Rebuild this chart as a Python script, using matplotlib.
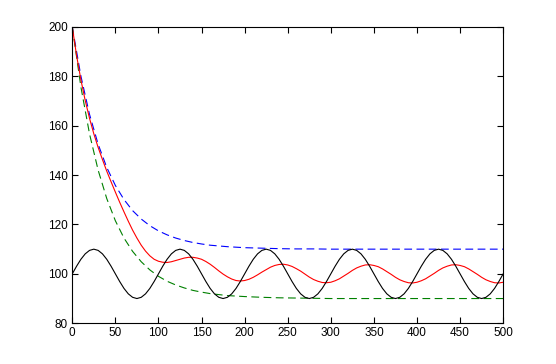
import matplotlib
matplotlib.use("Agg")
import matplotlib.pyplot as plt

# x positions (every 5 units)
x = list(range(0, 501, 5))

# black: oscillating input (one period = 20 samples, repeated)
black_period = [100.0, 103.1, 105.9, 108.1, 109.5, 110.0, 109.5, 108.1, 105.9, 103.1,
                100.0, 96.9, 94.1, 91.9, 90.5, 90.0, 90.5, 91.9, 94.1, 96.9]
black = (black_period * 6)[:100] + [100.0]

# blue dashed: upper envelope
x_env = [0, 10, 20, 30, 40, 50, 60, 70, 80, 90, 100, 110, 120, 130, 140, 150, 160,
         170, 180, 190, 200, 220, 240, 260, 280, 300, 350, 400, 450, 500]
blue = [200.0, 180.1, 164.6, 152.5, 143.1, 135.8, 130.1, 125.6, 122.2, 119.5, 117.4,
        115.8, 114.5, 113.5, 112.7, 112.1, 111.6, 111.3, 111.0, 110.8, 110.6, 110.4,
        110.2, 110.1, 110.1, 110.0, 110.0, 110.0, 110.0, 110.0]
# green dashed: lower envelope
green = [200.0, 175.7, 156.7, 142.0, 130.5, 121.5, 114.5, 109.1, 104.9, 101.6, 99.0,
         97.0, 95.5, 94.3, 93.3, 92.6, 92.0, 91.6, 91.2, 91.0, 90.8, 90.5, 90.3, 90.2,
         90.1, 90.0, 90.0, 90.0, 90.0, 90.0]

# red: filtered response
red_start = [200.0, 188.4, 178.6, 170.2, 163.0, 156.7, 151.2, 146.3, 141.6, 137.3,
             133.1, 129.0, 125.1, 121.3, 117.7, 114.5, 111.6, 109.2, 107.3, 105.9,
             105.1, 104.7, 104.6, 104.9, 105.4, 105.9, 106.4, 106.7, 106.7, 106.4,
             105.9, 105.0, 103.9, 102.6, 101.2, 99.9, 98.8, 97.9, 97.3, 97.1,
             97.3, 97.8, 98.6, 99.6, 100.7, 101.7, 102.7, 103.4, 103.8, 103.9,
             103.6, 103.0, 102.1, 101.1, 99.9, 98.7, 97.7, 97.0, 96.5, 96.4]
red_period = [96.6, 97.2, 98.0, 99.1, 100.2, 101.4, 102.4, 103.1, 103.6, 103.7,
              103.4, 102.9, 102.0, 100.9, 99.8, 98.6, 97.6, 96.9, 96.4, 96.3]
red = red_start + (red_period * 3)[:41]

fig = plt.figure(figsize=(5.56, 3.64), dpi=100)
ax = fig.add_axes([0.13, 0.112, 0.775, 0.814])

ax.plot(x_env, blue, color=(0, 0, 1), lw=0.8, dashes=(7, 4))
ax.plot(x_env, green, color=(0, 0.5, 0), lw=0.8, dashes=(7, 4))
ax.plot(x, red, color=(1, 0, 0), lw=0.8)
ax.plot(x, black, color="black", lw=0.8)

ax.set_xlim(0, 500)
ax.set_ylim(80, 200)
ax.set_xticks(list(range(0, 501, 50)))
ax.set_yticks(list(range(80, 201, 20)))
ax.tick_params(direction="in", length=4, width=0.8, top=True, right=True,
               labelsize=8.5, pad=3)
for lbl in ax.get_xticklabels() + ax.get_yticklabels():
    lbl.set_family(["Liberation Sans", "DejaVu Sans"])
for s in ax.spines.values():
    s.set_linewidth(0.8)

fig.savefig("out.png", dpi=100)
